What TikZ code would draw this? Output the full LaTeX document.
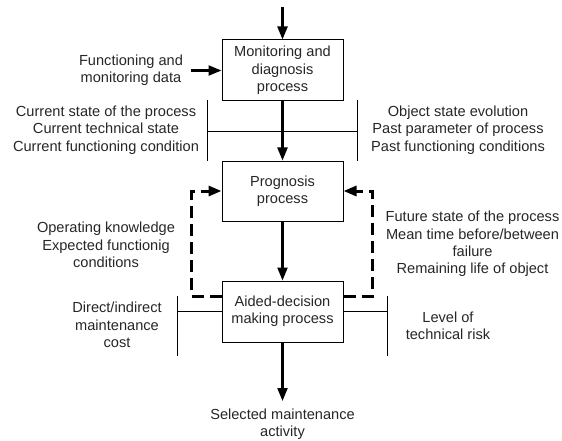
\documentclass[tikz,border=0pt]{standalone}
\usepackage{fontspec}
\setmainfont{Liberation Sans}
\usetikzlibrary{arrows.meta,calc}
\begin{document}
\begin{tikzpicture}[x=1pt,y=-1pt,
  every node/.style={font=\fontsize{14.6}{17.3}\selectfont, align=center, inner sep=0pt, text=black!85},
  procbox/.style={draw, line width=1pt, minimum width=121pt, minimum height=61pt},
  flow/.style={line width=2.1pt, -{Triangle[length=13pt,width=10pt]}},
  feed/.style={line width=3pt, dash pattern=on 12pt off 6pt, -{Triangle[length=13pt,width=10pt]}},
  bar/.style={line width=0.9pt}]
\useasboundingbox (0,0) rectangle (562,441);

% process boxes
\node[procbox] (mon)  at (282.5,70.5)  {Monitoring and\\diagnosis\\process};
\node[procbox, minimum height=60pt] (prog) at (282.5,191) {Prognosis\\process};
\node[procbox] (aid)  at (282.5,311.5) {Aided-decision\\making process};

% labels
\node (func) at (131,70)  {Functioning and\\monitoring data};
\node (curL) at (106,130) {Current state of the process\\Current technical state\\Current functioning condition};
\node (curR) at (458,130) {Object state evolution\\Past parameter of process\\Past functioning conditions};
\node (opk)  at (106,245) {Operating knowledge\\Expected functionig\\conditions};
\node (fut)  at (472.5,244) {Future state of the process\\Mean time before/between\\failure\\Remaining life of object};
\node (cost) at (117,325) {Direct/indirect\\maintenance\\cost};
\node (risk) at (448,326) {Level of\\technical risk};
\node (sel)  at (282.5,424.5) {Selected maintenance\\activity};

% free ends and bar points
\coordinate (in)    at (282.5,7);
\coordinate (fin)   at (191,70.5);
\coordinate (out)   at (282.5,401);
\coordinate (bLt)   at (207,100);
\coordinate (bLb)   at (207,161);
\coordinate (bRt)   at (357.5,100);
\coordinate (bRb)   at (357.5,161);
\coordinate (bL)    at (207,131);
\coordinate (bR)    at (357.5,131);
\coordinate (cLt)   at (177,296);
\coordinate (cLb)   at (177,356);
\coordinate (cRt)   at (387,296);
\coordinate (cRb)   at (387,356);
\coordinate (aidL)  at ($(aid.north west)!0.25!(aid.south west)$);
\coordinate (aidR)  at ($(aid.north east)!0.25!(aid.south east)$);

% main flow
\draw[flow] (in) -- (mon.north);
\draw[flow] (fin) -- (mon.west);
\draw[flow] (mon.south) -- (prog.north);
\draw[flow] (prog.south) -- (aid.north);
\draw[flow] (aid.south) -- (out);

% information bars
\draw[bar] (bLt) -- (bLb);
\draw[bar] (bRt) -- (bRb);
\draw[bar] (bL) -- (bR);
\draw[bar] (cLt) -- (cLb);
\draw[bar] (cRt) -- (cRb);
\draw[bar] (cLt |- aid.west) -- (aid.west);
\draw[bar] (aid.east) -- (cRt |- aid.east);

% feedback loops
\draw[feed] (aidL) -- ++(-30,0) |- (prog.west);
\draw[feed] (aidR) -- ++(29,0) |- (prog.east);
\end{tikzpicture}
\end{document}
